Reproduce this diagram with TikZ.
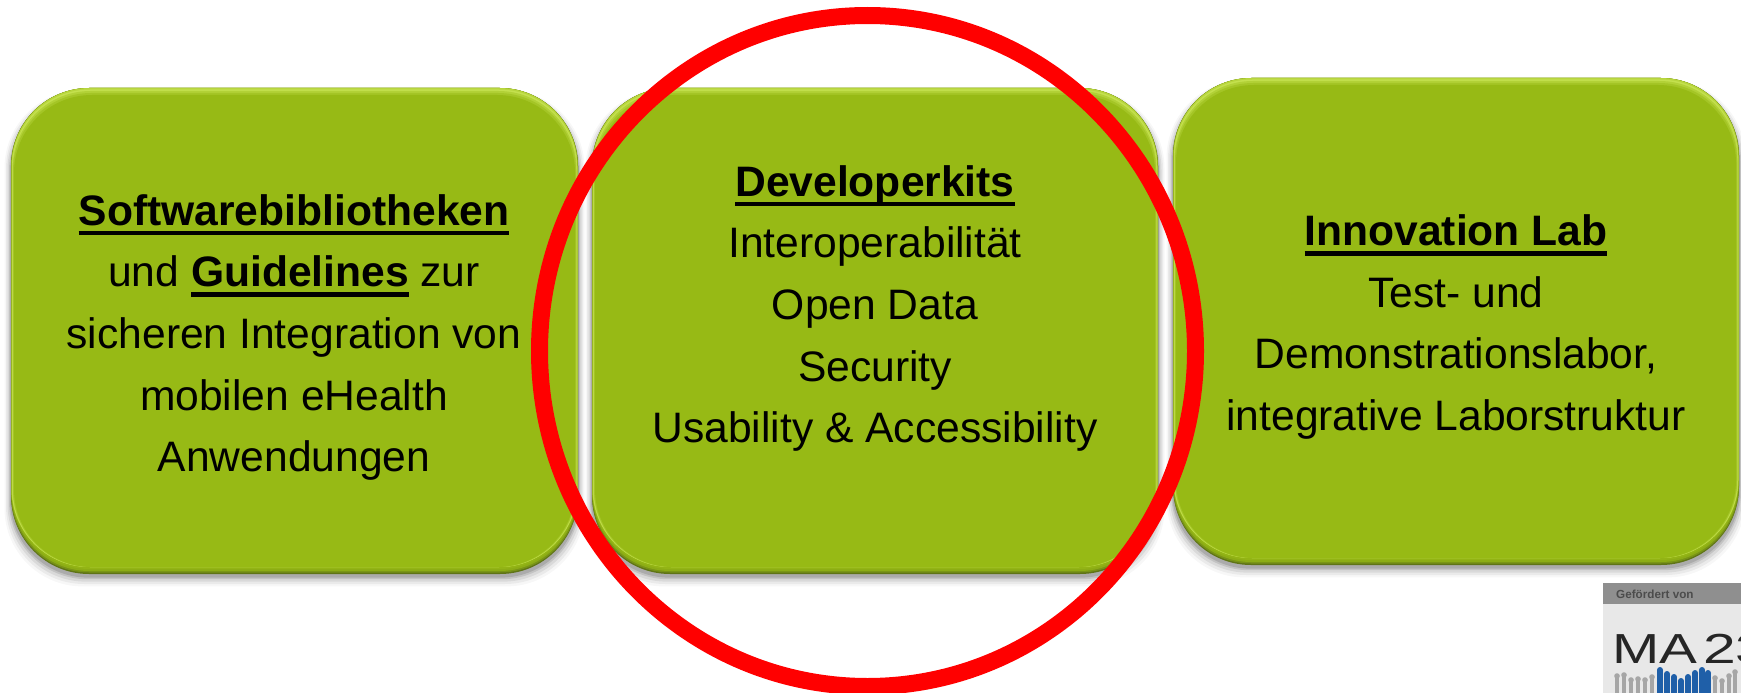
\documentclass[tikz,border=0pt]{standalone}
\usepackage{graphicx}
\usepackage{fontspec}
\setmainfont{Liberation Sans}
\newsavebox{\ulbox}
\newcommand{\thickul}[1]{\sbox{\ulbox}{\textbf{#1}}\leavevmode\rlap{\rule[-10pt]{\wd\ulbox}{4.6pt}}\usebox{\ulbox}}
\definecolor{basegreen}{HTML}{97BA15}
\definecolor{lightgreen}{HTML}{C4E04E}
\definecolor{darkgreen}{HTML}{5F7416}
\definecolor{logogray}{HTML}{8F8F8F}
\definecolor{logobg}{HTML}{E8E8E8}
\definecolor{logoblue}{HTML}{1F5FA8}
\definecolor{barGray}{HTML}{A6A6A6}
\tikzset{
  pxpic/.style={x=1pt,y=-1pt},
  boxtext/.style={align=center,font=\fontsize{42.6}{61.6}\selectfont,text=black,inner sep=0pt},
  cardshape/.style={rounded corners=78pt,line width=0pt},
  ring/.style={draw=red,line width=17pt},
  logohead/.style={font=\fontsize{11.7}{12}\selectfont\bfseries,text=black!70,anchor=west,inner sep=0pt},
  logobig/.style={font=\fontsize{42}{42}\selectfont,text=black!85,anchor=base west,inner sep=0pt}
}
\newcommand{\card}[5]{% x0 y0 x1 y1 name
  \foreach \g/\o in {13/.03,10/.05,7/.07,4/.10,2/.12}{
    \fill[black,opacity=\o,cardshape] (#1-\g*.5,#2+6-\g*.3) rectangle (#3+\g*.5,#4+2+\g*.8);
  }
  \fill[cardshape,darkgreen] (#1,#2) rectangle (#3,#4);
  \fill[cardshape,basegreen!45!darkgreen] (#1,#2) rectangle (#3,#4-1.5);
  \fill[cardshape,basegreen!80!darkgreen] (#1+.5,#2) rectangle (#3-.5,#4-3);
  \fill[cardshape,basegreen!92!darkgreen] (#1+.5,#2) rectangle (#3-.5,#4-5);
  \fill[cardshape,lightgreen!70!basegreen] (#1+.5,#2) rectangle (#3-.5,#4-7);
  \fill[cardshape,lightgreen] (#1+1,#2+1.5) rectangle (#3-1,#4-7);
  \fill[cardshape,lightgreen!60!basegreen] (#1+1.5,#2+3) rectangle (#3-1.5,#4-7);
  \fill[cardshape,lightgreen!30!basegreen] (#1+2,#2+5) rectangle (#3-2,#4-7);
  \fill[cardshape,basegreen] (#1+3,#2+7) rectangle (#3-3,#4-7);
  \node[inner sep=0pt,minimum size=0pt] (#5) at ({(#1+#3)/2},{(#2+#4)/2}) {};
}
\begin{document}
\begin{tikzpicture}[pxpic]
\useasboundingbox (0,0) rectangle (1741,693);
\card{11}{88}{578}{574}{cardA}
\card{592}{88}{1158}{574}{cardB}
\card{1173}{78}{1739}{565}{cardC}
\node[boxtext] (textA) at (294,337.5) {\thickul{Softwarebibliotheken}\\und \thickul{Guidelines} zur\\sicheren Integration von\\mobilen eHealth\\Anwendungen};
\node[boxtext] (textB) at (875,308.5) {\thickul{Developerkits}\\Interoperabilität\\Open Data\\Security\\Usability \& Accessibility};
\node[boxtext] (textC) at (1456,327) {\thickul{Innovation Lab}\\Test- und\\Demonstrationslabor,\\integrative Laborstruktur};
\begin{scope}
\clip (1603,583) rectangle (1741,693);
\fill[logobg] (1603,583) rectangle (1741,693);
\fill[logogray] (1603,583) rectangle (1741,604);
\node[logohead] (logoHead) at (1616,594) {Gefördert von};
\node[logobig] (logoMA) at (1612,663) {\scalebox{1.35}[1]{MA}};
\node[logobig] (logoNum) at (1703,663) {\scalebox{1.4}[1]{23}};
\foreach \xx/\yy in {1617/676,1624/675,1631/680,1638/679,1645/680,1652/677}{
  \fill[barGray] (\xx-2.4,\yy) rectangle (\xx+2.4,693);
  \fill[barGray] (\xx,\yy) circle (2.8);
}
\foreach \xx/\yy in {1660/670,1667/674,1674/677,1681/681,1688/677,1695/673,1702/670,1708/673}{
  \fill[logoblue] (\xx-2.6,\yy) rectangle (\xx+2.6,693);
  \fill[logoblue] (\xx,\yy) circle (3);
}
\foreach \xx/\yy in {1715/678,1722/681,1729/676,1735/672}{
  \fill[barGray] (\xx-2.4,\yy) rectangle (\xx+2.4,693);
  \fill[barGray] (\xx,\yy) circle (2.8);
}
\end{scope}
\draw[ring] (867.5,351) ellipse [x radius=328,y radius=335.5];
\end{tikzpicture}
\end{document}
